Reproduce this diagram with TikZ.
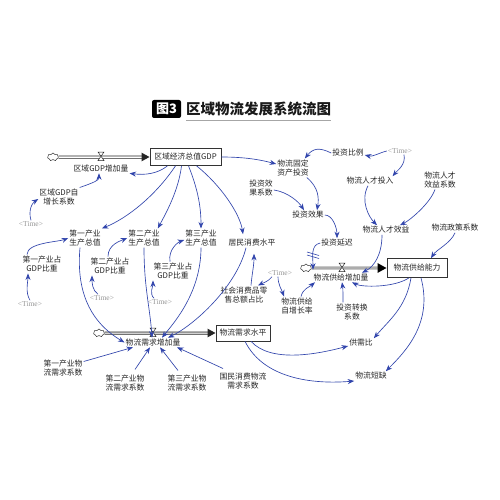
\documentclass[tikz,border=0pt]{standalone}
\usepackage{fontspec}
\newfontfamily\cjk{Noto Sans CJK SC}
\newfontfamily\tmfont{Liberation Serif}
\usetikzlibrary{arrows.meta,shapes.symbols}
\definecolor{arr}{RGB}{48,68,172}
\definecolor{tgray}{RGB}{150,150,150}
\begin{document}
\begin{tikzpicture}[x=1pt,y=-1pt,
  lab/.style={font=\cjk\fontsize{7.8}{9.4}\selectfont, align=center, inner sep=1pt, text=black!85},
  tm/.style={font=\tmfont\fontsize{7.5}{8}\selectfont, text=tgray, inner sep=1pt},
  stock/.style={draw=black!80, line width=0.7pt, font=\cjk\fontsize{7.8}{9.4}\selectfont, inner sep=0pt, text=black!85},
  ln/.style={draw=arr, line width=0.65pt, -{Stealth[length=6.5pt,width=5pt]}},
  cloudn/.style={cloud, draw=black!80, cloud puffs=7, cloud ignores aspect, minimum width=11pt, minimum height=8pt, inner sep=0pt, line width=0.5pt, fill=white},
  valvep/.style={draw=black!85, fill=white, line width=0.5pt},
  pipeo/.style={line width=3pt, draw=black!85, -{Triangle[length=8pt,width=8pt]}},
]
\useasboundingbox[fill=white] (0,0) rectangle (500,500);

% title
\node[fill=black, text=white, font=\cjk\bfseries\fontsize{13}{14}\selectfont, rounded corners=2pt, inner sep=0pt, minimum width=29pt, minimum height=18pt] (tb) at (166.5,109) {图3};
\node[font=\cjk\bfseries\fontsize{14.5}{16}\selectfont, anchor=west, inner sep=0pt, text=black!90] (tt) at (186,109) {区域物流发展系统流图};
\draw[gray!70, line width=1.2pt] ([yshift=-4.5pt]tt.south west) -- ([yshift=-4.5pt]tt.south east);

% stocks
\node[stock, minimum width=71pt, minimum height=17pt] (gdp) at (185.5,157) {区域经济总值GDP};
\node[stock, minimum width=60pt, minimum height=19pt] (sup) at (417,268) {物流供给能力};
\node[stock, minimum width=54pt, minimum height=16pt] (dem) at (243,333) {物流需求水平};

% clouds
\node[cloudn] (cl1) at (53,157) {};
\node[cloudn] (cl2) at (306,268) {};
\node[cloudn] (cl3) at (99,333) {};

% pipes
\draw[pipeo] (cl1.east) -- (gdp.west);
\draw[white, line width=1.5pt, shorten >=8pt] (cl1.east) -- (gdp.west);
\draw[pipeo] (cl3.east) -- (dem.west);
\draw[gray!35, line width=1.5pt, shorten >=8pt] (cl3.east) -- (dem.west);
\draw[line width=3.2pt, draw=gray!65, -{Triangle[length=9pt,width=9pt,color=black]}] (cl2.east) -- (sup.west);

% valves
\coordinate (v1) at (101,157);
\coordinate (v2) at (342,268);
\coordinate (v3) at (153,333);
\foreach \v in {v1,v2,v3}{
  \draw[valvep] ([shift={(-3,-5)}]\v) -- ([shift={(3,-5)}]\v) -- ([shift={(-3,3.5)}]\v) -- ([shift={(3,3.5)}]\v) -- cycle;
}

% flow labels
\node[lab] (gdpinc) at (101,168.5) {区域GDP增加量};
\node[lab] (supinc) at (341,277.5) {物流供给增加量};
\node[lab] (deminc) at (153,342.5) {物流需求增加量};

% auxiliaries
\node[lab] (gdpcoef) at (59,197) {区域GDP自\\增长系数};
\node[tm] (t1) at (31,224) {<Time>};
\node[lab] (p1) at (85,238) {第一产业\\生产总值};
\node[lab] (p2) at (144,238) {第二产业\\生产总值};
\node[lab] (p3) at (201,238) {第三产业\\生产总值};
\node[lab] (res) at (252,243) {居民消费水平};
\node[lab] (s1) at (42,264) {第一产业占\\GDP比重};
\node[lab] (s2) at (110,266) {第二产业占\\GDP比重};
\node[lab] (s3) at (173,271) {第三产业占\\GDP比重};
\node[tm] (ts1) at (30,304) {<Time>};
\node[tm] (ts2) at (102,298) {<Time>};
\node[tm] (ts3) at (160,302) {<Time>};
\node[lab] (soc) at (244,295) {社会消费品零\\售总额占比};
\node[tm] (tmid) at (280,273) {<Time>};
\node[lab] (sg) at (297,306) {物流供给\\自增长率};
\node[lab] (fix) at (293,168) {物流固定\\资产投资};
\node[lab] (ratio) at (348,153) {投资比例};
\node[tm] (ttop) at (400,151) {<Time>};
\node[lab] (talin) at (370,181) {物流人才投入};
\node[lab] (talcoef) at (440,180) {物流人才\\效益系数};
\node[lab] (effcoef) at (261,188) {投资效\\果系数};
\node[lab] (eff) at (308,215) {投资效果};
\node[lab] (delay) at (337,243) {投资延迟};
\node[lab] (taleff) at (386,230) {物流人才效益};
\node[lab] (pol) at (455,228) {物流政策系数};
\node[lab] (conv) at (352,312) {投资转换\\系数};
\node[lab] (ratio2) at (361,343) {供需比};
\node[lab] (short) at (371,376) {物流短缺};
\node[lab] (c1) at (63,368) {第一产业物\\流需求系数};
\node[lab] (c2) at (125,383) {第二产业物\\流需求系数};
\node[lab] (c3) at (187,383) {第三产业物\\流需求系数};
\node[lab] (c4) at (243,381) {国民消费物流\\需求系数};

% GDP part
\draw[ln] ([xshift=-18pt]gdp.south) .. controls +(-10,8) and +(15,2) .. (gdpinc.south east);
\draw[ln] (gdpcoef.north east) .. controls +(8,-3) and +(0,8) .. ([xshift=-2pt]gdpinc.south);
\draw[ln] (t1.north) .. controls +(-3,-10) and +(-6,4) .. ([yshift=-2pt]gdpcoef.west);
\draw[ln] ([xshift=-10pt]gdp.south) .. controls +(-20,30) and +(25,-10) .. (p1.north east);
\draw[ln] ([xshift=-4pt]gdp.south) .. controls +(-3,25) and +(8,-15) .. ([xshift=-3pt]p2.north east);
\draw[ln] ([xshift=3pt]gdp.south) .. controls +(10,25) and +(0,-20) .. (p3.north);
\draw[ln] ([xshift=11pt]gdp.south) .. controls +(25,20) and +(-3,-20) .. ([xshift=-9pt,yshift=4pt]res.north);
\draw[ln] (gdp.east) .. controls +(25,0) and +(-15,-4) .. ([yshift=4pt]fix.west);

% investment part
\draw[ln] (ratio.west) .. controls +(-12,-6) and +(8,-10) .. ([xshift=-5pt]fix.north east);
\draw[ln] (ttop.west) .. controls +(-8,2) and +(8,2) .. ([yshift=-2pt]ratio.east);
\draw[ln] ([xshift=4pt]ttop.south) .. controls +(2,10) and +(5,-6) .. ([xshift=-2pt]talin.north east);
\draw[ln] ([xshift=-3pt]fix.south east) .. controls +(12,10) and +(2,-12) .. ([xshift=9pt]eff.north);
\draw[ln] ([yshift=-2pt]effcoef.east) .. controls +(14,2) and +(-5,-8) .. ([xshift=-4pt]eff.north);
\draw[ln] (eff.east) .. controls +(8,0) and +(0,-10) .. (delay.north);
\draw[ln] ([xshift=-2pt]talin.south) .. controls +(-8,15) and +(-8,-8) .. ([xshift=-9pt]taleff.north);
\draw[ln] ([xshift=-5pt]talcoef.south) .. controls +(-5,14) and +(10,-5) .. ([xshift=14pt]taleff.north);
\draw[ln] (pol.south) .. controls +(-4,10) and +(5,-8) .. ([xshift=14pt]sup.north);
\draw[ln] ([xshift=-4pt]taleff.south) .. controls +(0,20) and +(12,-6) .. ([xshift=21pt]supinc.north);
\draw[ln] (delay.west) .. controls +(-10,2) and +(0,-12) .. ([xshift=-28pt,yshift=3pt]supinc.north);
\draw[arr, line width=0.6pt] (307,252) -- (319,255.5) (307,255) -- (319,258.5);
\draw[ln] ([xshift=-8pt]sup.south) .. controls +(-15,10) and +(10,5) .. ([xshift=11pt]supinc.south);
\draw[ln] ([xshift=-9pt]conv.north) .. controls +(0,-8) and +(1,7) .. ([xshift=1pt]supinc.south);
\draw[ln] ([xshift=4pt]sg.north) .. controls +(2,-8) and +(-6,5) .. ([xshift=-26pt]supinc.south);
\draw[ln] ([xshift=-2pt]tmid.south) .. controls +(0,8) and +(-2,-6) .. ([xshift=-13pt]sg.north);
\draw[ln] ([xshift=-8pt]tmid.south) .. controls +(-4,5) and +(6,-3) .. ([xshift=14pt]soc.north);
\draw[ln] ([xshift=7pt]soc.north) .. controls +(1,-12) and +(0,12) .. ([xshift=2pt,yshift=-6pt]res.south);

% demand part
\draw[ln] ([xshift=-6pt]res.south) .. controls +(-10,40) and +(25,-12) .. ([xshift=15pt]deminc.north);
\draw[ln] ([xshift=-5pt]p1.south) .. controls +(-5,55) and +(-25,-15) .. (deminc.west);
\draw[ln] (p2.south) .. controls +(0,40) and +(-2,-30) .. ([xshift=-1pt]deminc.north);
\draw[ln] (p3.south) .. controls +(0,45) and +(12,-15) .. ([xshift=9pt]deminc.north);
\draw[ln] ([xshift=-15pt]s1.north) .. controls +(0,-12) and +(-10,4) .. (p1.west);
\draw[ln] (ts1.north) .. controls +(-5,-8) and +(0,8) .. ([xshift=-14pt]s1.south);
\draw[ln] ([xshift=-2pt]s2.north) .. controls +(0,-12) and +(-7,3) .. (p2.west);
\draw[ln] ([xshift=-4pt]ts2.north) .. controls +(-6,-4) and +(0,6) .. ([xshift=-18pt]s2.south);
\draw[ln] ([xshift=-3pt]s3.north) .. controls +(-2,-12) and +(-6,2) .. ([yshift=-2pt]p3.west);
\draw[ln] ([xshift=-6pt]ts3.north) .. controls +(-5,-5) and +(0,6) .. ([xshift=-20pt]s3.south);
\draw[ln] ([yshift=-3pt]c1.north east) -- ([xshift=-20pt]deminc.south);
\draw[ln] ([xshift=10pt,yshift=4pt]c2.north) -- ([xshift=-3pt]deminc.south);
\draw[ln] ([xshift=-9pt,yshift=3pt]c3.north) -- ([xshift=7pt]deminc.south);
\draw[ln] ([xshift=-20pt,yshift=3pt]c4.north) -- ([xshift=24pt]deminc.south);

% outputs
\draw[ln] ([xshift=8pt]dem.south) .. controls +(20,22) and +(-30,8) .. ([yshift=-3pt]ratio2.west);
\draw[ln] ([xshift=2pt]dem.south) .. controls +(20,40) and +(-35,3) .. ([yshift=-5pt]short.west);
\draw[ln] ([xshift=-6pt]sup.south) .. controls +(-5,30) and +(15,-18) .. (ratio2.north east);
\draw[ln] ([xshift=4pt]sup.south) .. controls +(12,45) and +(20,-20) .. ([xshift=-2pt]short.north east);
\end{tikzpicture}
\end{document}
